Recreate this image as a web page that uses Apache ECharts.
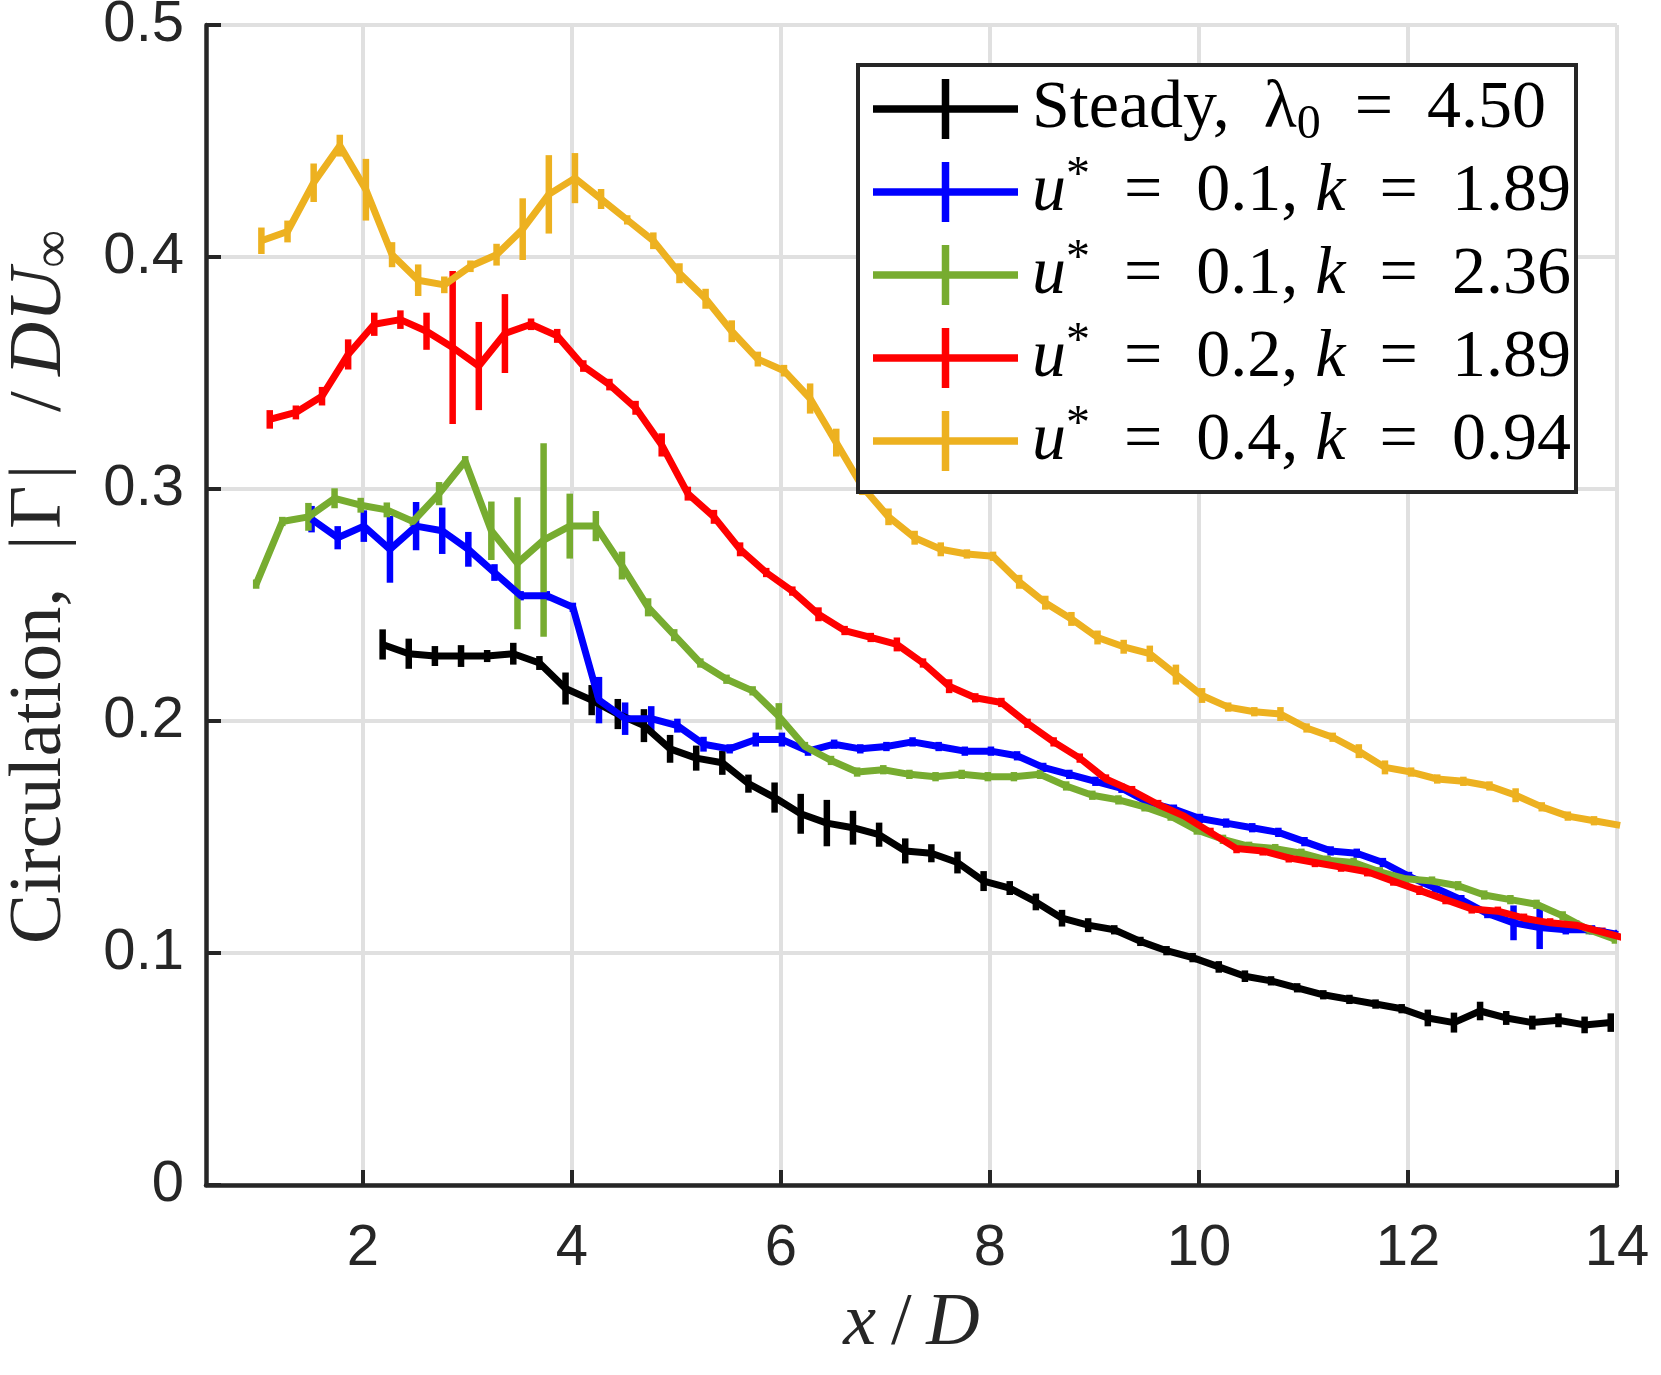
<!DOCTYPE html>
<html>
<head>
<meta charset="utf-8">
<script src="https://cdn.jsdelivr.net/npm/echarts@6/dist/echarts.min.js"></script>
<style>
html,body{margin:0;padding:0;background:#fff;}
#chart{width:1661px;height:1375px;}
</style>
</head>
<body>
<div id="chart"></div>
<script>
// ---------- data ----------
const xTickValues = [2, 4, 6, 8, 10, 12, 14];

const legendNames = [
  'Steady, λ0 = 4.50',
  'u* = 0.1, k = 1.89',
  'u* = 0.1, k = 2.36',
  'u* = 0.2, k = 1.89',
  'u* = 0.4, k = 0.94'
];

const steadyX = [2.19,2.44,2.69,2.94,3.19,3.44,3.69,3.94,4.19,4.44,4.69,4.94,5.19,5.44,5.69,5.94,6.19,6.44,6.69,6.94,7.19,7.44,7.69,7.94,8.19,8.44,8.69,8.94,9.19,9.44,9.69,9.94,10.19,10.44,10.69,10.94,11.19,11.44,11.69,11.94,12.19,12.44,12.69,12.94,13.19,13.44,13.69,13.94];
const steadyY = [0.233,0.229,0.228,0.228,0.228,0.229,0.225,0.214,0.209,0.203,0.198,0.188,0.184,0.182,0.173,0.167,0.160,0.156,0.154,0.151,0.144,0.143,0.139,0.131,0.128,0.122,0.115,0.112,0.110,0.105,0.101,0.098,0.094,0.090,0.088,0.085,0.082,0.080,0.078,0.076,0.072,0.070,0.075,0.072,0.070,0.071,0.069,0.070];
const steadyErr = [0.0065,0.0065,0.0043,0.0047,0.0026,0.0047,0.003,0.0069,0.0065,0.0065,0.0071,0.006,0.0054,0.0052,0.0039,0.0065,0.0086,0.01,0.0073,0.0052,0.0054,0.0039,0.0047,0.0043,0.003,0.0036,0.0036,0.003,0.002,0.002,0.002,0.002,0.0025,0.0025,0.002,0.002,0.002,0.002,0.002,0.002,0.0036,0.0043,0.004,0.003,0.003,0.003,0.0036,0.004];

const blueX = [1.51,1.76,2.01,2.26,2.51,2.76,3.01,3.26,3.51,3.76,4.01,4.26,4.51,4.76,5.01,5.26,5.51,5.76,6.01,6.26,6.51,6.76,7.01,7.26,7.51,7.76,8.01,8.26,8.51,8.76,9.01,9.26,9.51,9.76,10.01,10.26,10.51,10.76,11.01,11.26,11.51,11.76,12.01,12.26,12.51,12.76,13.01,13.26,13.51,13.76,14.01];
const blueY = [0.287,0.279,0.284,0.274,0.284,0.282,0.274,0.264,0.254,0.254,0.249,0.209,0.201,0.201,0.198,0.190,0.188,0.192,0.192,0.187,0.190,0.188,0.189,0.191,0.189,0.187,0.187,0.185,0.180,0.177,0.174,0.171,0.165,0.162,0.158,0.156,0.154,0.152,0.148,0.144,0.143,0.139,0.133,0.128,0.123,0.117,0.113,0.111,0.110,0.110,0.108];
const blueErr = [0.0057,0.005,0.0068,0.0144,0.0104,0.01,0.0075,0.0036,0.002,0.002,0.002,0.01,0.007,0.0054,0.003,0.0032,0.002,0.003,0.003,0.002,0.002,0.002,0.002,0.002,0.002,0.002,0.002,0.002,0.002,0.002,0.002,0.002,0.002,0.002,0.002,0.002,0.002,0.002,0.002,0.002,0.002,0.002,0.002,0.002,0.002,0.002,0.0075,0.0093,0.002,0.002,0.002];

const greenX = [0.98,1.23,1.48,1.73,1.98,2.23,2.48,2.73,2.98,3.23,3.48,3.73,3.98,4.23,4.48,4.73,4.98,5.23,5.48,5.73,5.98,6.23,6.48,6.73,6.98,7.23,7.48,7.73,7.98,8.23,8.48,8.73,8.98,9.23,9.48,9.73,9.98,10.23,10.48,10.73,10.98,11.23,11.48,11.73,11.98,12.23,12.48,12.73,12.98,13.23,13.48,13.73,13.98];
const greenY = [0.259,0.286,0.288,0.296,0.293,0.291,0.286,0.298,0.312,0.282,0.268,0.278,0.284,0.284,0.267,0.249,0.237,0.225,0.218,0.213,0.202,0.189,0.183,0.178,0.179,0.177,0.176,0.177,0.176,0.176,0.177,0.172,0.168,0.166,0.163,0.159,0.153,0.149,0.146,0.145,0.143,0.140,0.139,0.135,0.132,0.131,0.129,0.125,0.123,0.121,0.116,0.110,0.106];
const greenErr = [0.002,0.002,0.006,0.0043,0.0032,0.0032,0.002,0.005,0.0022,0.0126,0.0284,0.0417,0.014,0.0065,0.006,0.0039,0.0026,0.002,0.002,0.002,0.0057,0.002,0.002,0.002,0.002,0.002,0.002,0.002,0.002,0.002,0.002,0.002,0.002,0.002,0.002,0.002,0.002,0.002,0.002,0.002,0.002,0.002,0.002,0.002,0.002,0.002,0.002,0.002,0.002,0.002,0.002,0.002,0.002];

const redX = [1.11,1.36,1.61,1.86,2.11,2.36,2.61,2.86,3.11,3.36,3.61,3.86,4.11,4.36,4.61,4.86,5.11,5.36,5.61,5.86,6.11,6.36,6.61,6.86,7.11,7.36,7.61,7.86,8.11,8.36,8.61,8.86,9.11,9.36,9.61,9.86,10.11,10.36,10.61,10.86,11.11,11.36,11.61,11.86,12.11,12.36,12.61,12.86,13.11,13.36,13.61,13.86,14.11];
const redY = [0.330,0.333,0.340,0.358,0.371,0.373,0.368,0.361,0.353,0.367,0.371,0.366,0.353,0.345,0.335,0.319,0.298,0.288,0.274,0.264,0.256,0.246,0.239,0.236,0.233,0.225,0.215,0.210,0.208,0.199,0.191,0.184,0.175,0.170,0.164,0.159,0.152,0.145,0.144,0.141,0.139,0.137,0.135,0.131,0.127,0.123,0.119,0.118,0.115,0.113,0.112,0.109,0.106];
const redErr = [0.004,0.003,0.004,0.0065,0.005,0.004,0.008,0.033,0.019,0.017,0.0025,0.003,0.0025,0.0025,0.003,0.005,0.003,0.003,0.003,0.002,0.002,0.003,0.002,0.002,0.003,0.002,0.003,0.002,0.002,0.002,0.002,0.002,0.002,0.002,0.002,0.002,0.002,0.002,0.002,0.002,0.002,0.002,0.002,0.002,0.002,0.002,0.002,0.002,0.002,0.002,0.002,0.002,0.002];

const yellowX = [1.03,1.28,1.53,1.78,2.03,2.28,2.53,2.78,3.03,3.28,3.53,3.78,4.03,4.28,4.53,4.78,5.03,5.28,5.53,5.78,6.03,6.28,6.53,6.78,7.03,7.28,7.53,7.78,8.03,8.28,8.53,8.78,9.03,9.28,9.53,9.78,10.03,10.28,10.53,10.78,11.03,11.28,11.53,11.78,12.03,12.28,12.53,12.78,13.03,13.28,13.53,13.78,14.03];
const yellowY = [0.407,0.411,0.432,0.448,0.429,0.401,0.390,0.388,0.396,0.401,0.412,0.427,0.434,0.425,0.416,0.407,0.393,0.382,0.368,0.356,0.351,0.339,0.320,0.301,0.288,0.279,0.274,0.272,0.271,0.260,0.251,0.244,0.236,0.232,0.229,0.220,0.211,0.206,0.204,0.203,0.197,0.193,0.187,0.180,0.178,0.175,0.174,0.172,0.168,0.163,0.159,0.157,0.155];
const yellowErr = [0.0057,0.0047,0.0083,0.0047,0.0133,0.0054,0.0068,0.0036,0.0025,0.0047,0.0133,0.0169,0.0108,0.0043,0.002,0.0036,0.0043,0.0043,0.0047,0.0032,0.0025,0.0065,0.006,0.0036,0.0036,0.003,0.003,0.002,0.002,0.003,0.003,0.003,0.003,0.003,0.0035,0.0043,0.0032,0.002,0.002,0.003,0.002,0.002,0.003,0.003,0.002,0.002,0.002,0.002,0.003,0.002,0.002,0.002,0.002];

// ---------- chart ----------
const SERIF = "'Liberation Serif', 'DejaVu Serif', serif";
const SANS = "'Liberation Sans', Arial, sans-serif";
const EQ = '\u2002=\u2002';

const legendRich = [
  '{n|Steady,\u2002λ}{sub|0}{n|' + EQ + '4.50}',
  '{i|u}{sup|*}{n|' + EQ + '0.1, }{i|k}{n|' + EQ + '1.89}',
  '{i|u}{sup|*}{n|' + EQ + '0.1, }{i|k}{n|' + EQ + '2.36}',
  '{i|u}{sup|*}{n|' + EQ + '0.2, }{i|k}{n|' + EQ + '1.89}',
  '{i|u}{sup|*}{n|' + EQ + '0.4, }{i|k}{n|' + EQ + '0.94}'
];

const defs = [
  {name: legendNames[0], x: steadyX, y: steadyY, e: steadyErr, color: '#000000'},
  {name: legendNames[1], x: blueX, y: blueY, e: blueErr, color: '#0000FF'},
  {name: legendNames[2], x: greenX, y: greenY, e: greenErr, color: '#77AC30'},
  {name: legendNames[3], x: redX, y: redY, e: redErr, color: '#FF0000'},
  {name: legendNames[4], x: yellowX, y: yellowY, e: yellowErr, color: '#EDB120'}
];

const LINE_W = 7;
const ERR_W = 6.5;

const series = [];
defs.forEach(function (d) {
  series.push({
    type: 'line',
    name: d.name,
    data: d.x.map(function (x, i) { return [x, d.y[i]]; }),
    symbol: 'none',
    showSymbol: false,
    clip: true,
    lineStyle: {color: d.color, width: LINE_W, join: 'round', cap: 'butt'},
    itemStyle: {color: d.color},
    emphasis: {disabled: true},
    z: 2
  });
  series.push({
    type: 'custom',
    name: d.name + ' err',
    data: d.x.map(function (x, i) { return [x, d.y[i] - d.e[i], d.y[i] + d.e[i]]; }),
    encode: {x: 0, y: [1, 2]},
    clip: true,
    silent: true,
    z: 2,
    renderItem: function (params, api) {
      const p1 = api.coord([api.value(0), api.value(1)]);
      const p2 = api.coord([api.value(0), api.value(2)]);
      return {
        type: 'line',
        shape: {x1: p1[0], y1: p1[1], x2: p2[0], y2: p2[1]},
        style: {stroke: d.color, lineWidth: ERR_W, lineCap: 'butt'}
      };
    }
  });
});

const axisColor = '#262626';
const gridColor = '#e0e0e0';

const option = {
  animation: false,
  backgroundColor: '#ffffff',
  grid: {left: 206, right: 44, top: 25, bottom: 190, containLabel: false, outerBoundsMode: 'none'},
  xAxis: {
    type: 'value',
    min: 0.5,
    max: 14,
    axisLine: {show: true, onZero: false, lineStyle: {color: axisColor, width: 4.5}},
    axisTick: {show: true, inside: true, length: 15, customValues: xTickValues, lineStyle: {color: axisColor, width: 4}},
    axisLabel: {show: true, customValues: xTickValues, fontFamily: SANS, fontSize: 58, color: axisColor, margin: 35},
    splitLine: {show: true, lineStyle: {color: gridColor, width: 4}},
    name: '{i|x}{n|\u2009/\u2009}{i|D}',
    nameLocation: 'middle',
    nameGap: 92,
    nameTextStyle: {
      fontFamily: SERIF, fontSize: 74, color: axisColor, lineHeight: 84,
      rich: {
        n: {fontFamily: SERIF, fontSize: 74, lineHeight: 84, color: axisColor},
        i: {fontFamily: SERIF, fontSize: 74, lineHeight: 84, fontStyle: 'italic', color: axisColor}
      }
    }
  },
  yAxis: {
    type: 'value',
    min: 0,
    max: 0.5,
    interval: 0.1,
    axisLine: {show: true, onZero: false, lineStyle: {color: axisColor, width: 4.5}},
    axisTick: {show: true, inside: true, length: 15, lineStyle: {color: axisColor, width: 4}},
    axisLabel: {show: true, fontFamily: SANS, fontSize: 58, color: axisColor, margin: 22},
    splitLine: {show: true, lineStyle: {color: gridColor, width: 4}},
    name: '{n|Circulation,\u2002|\u200AΓ\u200A|\u2002\u2009/\u2009}{i|DU}{sub|∞}',
    nameLocation: 'middle',
    nameRotate: 90,
    nameGap: 124,
    nameTextStyle: {
      fontFamily: SERIF, fontSize: 75, color: axisColor, lineHeight: 84,
      padding: [0, 0, 0, 36],
      rich: {
        n: {fontFamily: SERIF, fontSize: 75, lineHeight: 84, color: axisColor},
        i: {fontFamily: SERIF, fontSize: 75, lineHeight: 84, fontStyle: 'italic', color: axisColor},
        sub: {fontFamily: SERIF, fontSize: 53, lineHeight: 53, verticalAlign: 'bottom', color: axisColor}
      }
    }
  },
  legend: {
    data: legendNames,
    orient: 'vertical',
    left: 873,
    top: 69,
    padding: 0,
    itemWidth: 145,
    itemHeight: 60,
    itemGap: 3,
    selectedMode: false,
    z: 200,
    icon: 'path://M0,26.25L145,26.25L145,33.75L0,33.75Z M68.75,0L76.25,0L76.25,60L68.75,60Z',
    formatter: function (name) { return legendRich[legendNames.indexOf(name)]; },
    textStyle: {
      fontFamily: SERIF, fontSize: 68, lineHeight: 80, color: '#000000',
      padding: [0, 0, 0, 9],
      rich: {
        n: {fontFamily: SERIF, fontSize: 68, lineHeight: 80, color: '#000000'},
        i: {fontFamily: SERIF, fontSize: 68, lineHeight: 80, fontStyle: 'italic', color: '#000000'},
        sup: {fontFamily: SERIF, fontSize: 48, lineHeight: 68, verticalAlign: 'top', color: '#000000'},
        sub: {fontFamily: SERIF, fontSize: 48, lineHeight: 48, verticalAlign: 'bottom', color: '#000000'}
      }
    }
  },
  graphic: {
    elements: [{
      type: 'rect',
      z: 100,
      silent: true,
      shape: {x: 858, y: 65, width: 718, height: 427},
      style: {fill: '#ffffff', stroke: axisColor, lineWidth: 4}
    }]
  },
  series: series
};

const chart = echarts.init(document.getElementById('chart'), null, {renderer: 'canvas'});
chart.setOption(option);
</script>
</body>
</html>
